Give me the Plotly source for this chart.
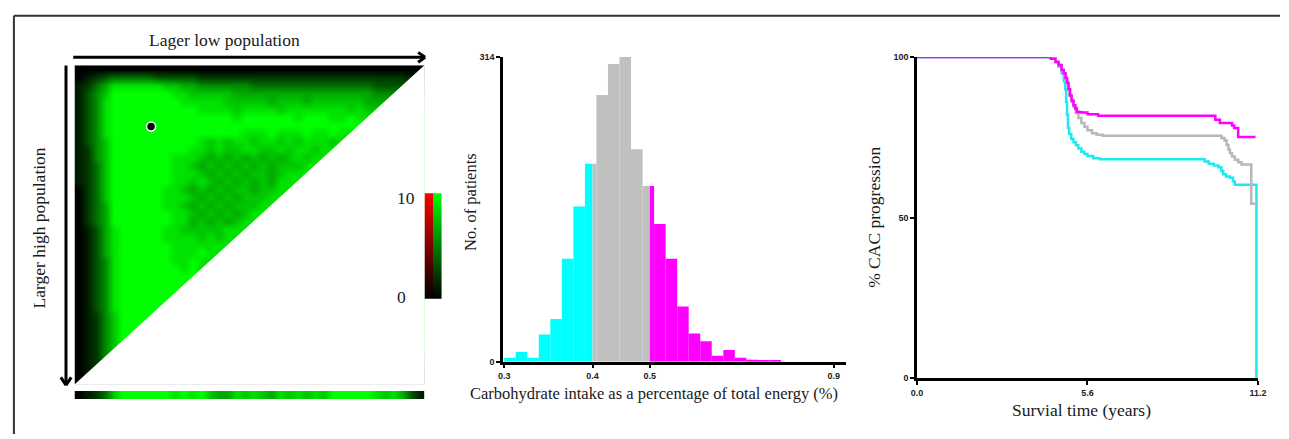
import plotly.graph_objects as go

W, H = 1289, 439

# ---------------- data ----------------
# X-tile triangular map: row i (top->bottom), digits 0..9 (0 = black, 9 = full green)
heat_rows = [
    "00000 00000 00000 00000 00000 00000 00000 00000",
    "01234 44443 33332 22222 22222 22222 22222 2221",
    "12468 88888 77665 55555 44444 44444 44443 333",
    "13579 99999 98877 77766 66666 66666 66665 55",
    "13589 99999 99888 88777 77677 76777 77766 6",
    "13589 99999 99998 88878 88878 88888 87877",
    "13589 99999 99999 99989 99999 89998 8988",
    "13589 99999 99999 99999 99999 99999 999",
    "13589 99999 99999 99998 88988 89889 88",
    "13579 99999 99998 78788 78878 78887 8",
    "12579 99999 99988 78778 87787 88788",
    "12579 99999 98887 67676 76767 8788",
    "12479 99999 98876 76767 67677 788",
    "12479 99999 98887 67676 77678 88",
    "12479 99999 98878 76767 67688 8",
    "02479 99999 88767 67677 67788",
    "02479 99999 88876 76767 7788",
    "02469 99999 88767 67677 788",
    "02469 99999 98876 76767 88",
    "02469 99999 98867 67678 8",
    "01368 99999 88777 77888",
    "01368 99999 88887 8788",
    "01368 99999 98888 888",
    "01368 99999 98889 88",
    "01358 99999 98898 8",
    "01358 99999 99898",
    "01358 99999 9999",
    "01358 99999 999",
    "01358 99999 99",
    "01358 99999 9",
    "01358 99999",
    "01257 9999",
    "01257 999",
    "01257 99",
    "01257 9",
    "01257",
    "0125",
    "012",
    "01",
    "0",
]
strip_values = "01247 99999 98989 76687 87687 87879 99998 78631"
optimal_cut = (8.25, 7.17)          # (column, row) of the selected cutpoint
colorbar_min, colorbar_max = 0, 10

# Histogram (equal-width bins, in bin units) and cutpoints
hist_counts = [4, 10, 4, 28, 44, 106, 160, 204, 275, 307, 314, 219,
               181, 142, 106, 57, 29, 21, 6, 12, 4, 2, 1.5, 1]
hist_cuts = [7.66, 12.63]
hist_tick_pos = [0, 7.66, 12.63, 28.57]
hist_tick_text = ["0.3", "0.4", "0.5", "0.9"]
hist_colors = ["#00FFFF", "#C0C0C0", "#FF00FF"]

# Kaplan-Meier curves
km_low_t = [0, 4.11, 4.40, 4.55, 4.65, 4.75, 4.82, 4.87, 4.90, 4.93, 4.96, 5.0,
            5.07, 5.14, 5.22, 5.30, 5.40, 5.50, 5.60, 5.79, 6.0, 9.36, 9.45, 9.58,
            9.75, 9.90, 10.0, 10.06, 10.15, 10.28, 10.38, 10.44, 11.15]
km_low_s = [100, 100, 99.5, 98.5, 97, 95, 92.5, 90, 86, 82, 78, 76,
            74.5, 73.5, 72.5, 71.5, 70.5, 69.8, 69.2, 68.5, 68.2, 68.2, 67.5, 66.8,
            66.2, 65.7, 64.5, 63.5, 62.8, 62.4, 61.2, 60.2, 0]
km_mid_t = [0, 4.11, 4.40, 4.55, 4.65, 4.75, 4.82, 4.88, 4.95, 5.0, 5.07, 5.14,
            5.22, 5.30, 5.40, 5.50, 5.60, 5.75, 5.90, 6.10, 9.80, 10.0, 10.10, 10.17,
            10.23, 10.28, 10.35, 10.44, 10.55, 10.66, 10.98, 11.25]
km_mid_s = [100, 100, 99.5, 98.5, 97.5, 96, 94.5, 92.5, 90, 88, 86, 84.5,
            82.5, 81, 79.5, 78.3, 77.2, 76.3, 75.8, 75.5, 75.5, 74.8, 74, 72.6,
            71.2, 70, 69, 68, 67.2, 66.5, 54.3, 54.3]
km_high_t = [0, 4.11, 4.40, 4.55, 4.65, 4.75, 4.82, 4.88, 4.93, 4.98, 5.03, 5.08,
             5.14, 5.20, 5.25, 5.33, 5.41, 5.60, 5.95, 9.74, 9.80, 9.95, 10.35,
             10.42, 10.55, 11.12]
km_high_s = [100, 100, 99.5, 98.5, 97.5, 96, 95, 93.5, 92, 90, 88, 86.5,
             85, 84, 83, 82.8, 82.7, 82.2, 81.7, 81.7, 80.5, 79.5, 78.7,
             77.9, 75.1, 75.1]
km_ticks = [0, 5.6, 11.2]
km_tick_text = ["0.0", "5.6", "11.2"]

# ---------------- helpers ----------------
def px(x):
    return x / W

def py(y):
    return (H - y) / H

SERIF = "Liberation Serif, Times New Roman, serif"
SANS = "Liberation Sans, Arial, sans-serif"

fig = go.Figure()

# ---- heatmap (triangle) ----
N = 40
z = []
for i, s in enumerate(heat_rows):
    d = [int(c) for c in s.replace(" ", "")]
    L = N - i
    d = d[:L]
    # cells beyond the diagonal are hidden by the white mask; repeat edge value
    z.append(d + [d[-1]] * (N - len(d)))

green_scale = [[0, "#000000"], [1, "#00FF00"]]
red_scale = [[0, "#000000"], [1, "#FF0000"]]

fig.add_trace(go.Heatmap(z=z, x=list(range(N)), y=list(range(N)), colorscale=green_scale,
                         zmin=0, zmax=9, showscale=False, zsmooth="best",
                         xaxis="x", yaxis="y"))
fig.add_trace(go.Scatter(x=[optimal_cut[0]], y=[optimal_cut[1]], mode="markers",
                         marker=dict(size=9, color="black", line=dict(color="white", width=1.5)),
                         showlegend=False, xaxis="x", yaxis="y"))

# ---- strip under heatmap ----
sv = [int(c) for c in strip_values.replace(" ", "")]
fig.add_trace(go.Heatmap(z=[sv, sv], x=list(range(N)), y=[0, 1], colorscale=green_scale,
                         zmin=0, zmax=9, showscale=False, zsmooth="best",
                         xaxis="x2", yaxis="y2"))

# ---- two-column colour bar ----
levels = [colorbar_min + (colorbar_max - colorbar_min) * k / 60 for k in range(61)]
fig.add_trace(go.Heatmap(z=[[v] for v in levels], x=[0], y=levels, colorscale=red_scale,
                         zmin=colorbar_min, zmax=colorbar_max, showscale=False,
                         xaxis="x3", yaxis="y3"))
fig.add_trace(go.Heatmap(z=[[v] for v in levels], x=[1], y=levels, colorscale=green_scale,
                         zmin=colorbar_min, zmax=colorbar_max, showscale=False,
                         xaxis="x3", yaxis="y3"))

# ---- histogram ----
bounds = [0] + hist_cuts + [len(hist_counts)]
for g in range(3):
    a, b = bounds[g], bounds[g + 1]
    xs, ws, ys = [], [], []
    for k, c in enumerate(hist_counts):
        lo, hi = max(k, a), min(k + 1, b)
        if hi > lo:
            xs.append((lo + hi) / 2)
            ws.append(hi - lo)
            ys.append(c)
    fig.add_trace(go.Bar(x=xs, y=ys, width=ws, marker=dict(color=hist_colors[g], line=dict(width=0)),
                         showlegend=False, xaxis="x4", yaxis="y4"))

# ---- KM curves ----
for t, s, col in [(km_low_t, km_low_s, "#1EE8F0"), (km_mid_t, km_mid_s, "#B8B8B8"),
                  (km_high_t, km_high_s, "#FF00FF")]:
    fig.add_trace(go.Scatter(x=t, y=s, mode="lines", line=dict(color=col, width=2.5, shape="hv"),
                             cliponaxis=False, showlegend=False, xaxis="x5", yaxis="y5"))

hidden = dict(visible=False, showgrid=False, zeroline=False, fixedrange=True)
tickfont = dict(family=SANS, size=9, color="#222222", weight="bold")
axis_style = dict(showline=True, linecolor="black", linewidth=2.5, ticks="outside",
                  ticklen=4, tickwidth=2, tickcolor="black", showgrid=False,
                  zeroline=False, tickfont=tickfont, mirror=False)

fig.update_layout(
    width=W, height=H, margin=dict(l=0, r=0, t=0, b=0), autosize=False,
    paper_bgcolor="white", plot_bgcolor="rgba(0,0,0,0)", showlegend=False,
    barmode="overlay",
    xaxis=dict(domain=[px(69.3), px(423.3)], range=[-0.5, N - 0.5], anchor="y", **hidden),
    yaxis=dict(domain=[py(388.3), py(61.7)], range=[N - 0.5, -0.5], anchor="x", **hidden),
    xaxis2=dict(domain=[px(69.3), px(423.3)], range=[-0.5, N - 0.5], anchor="y2", **hidden),
    yaxis2=dict(domain=[py(403.3), py(395)], range=[0, 1], anchor="x2", **hidden),
    xaxis3=dict(domain=[px(423.3), px(440.7)], range=[-0.5, 1.5], anchor="y3", **hidden),
    yaxis3=dict(domain=[py(300.7), py(192.7)], range=[colorbar_min, colorbar_max], anchor="x3", **hidden),
    xaxis4=dict(domain=[px(503), px(850)], range=[-0.09, 29.65], anchor="y4",
                tickvals=hist_tick_pos, ticktext=hist_tick_text, **axis_style),
    yaxis4=dict(domain=[py(365), py(53.3)], range=[0, 314], anchor="x4",
                tickvals=[0, 314], ticktext=["0", "314"], **axis_style),
    xaxis5=dict(domain=[px(921.7), px(1266.7)], range=[0, 11.2], anchor="y5",
                tickvals=km_ticks, ticktext=km_tick_text, **axis_style),
    yaxis5=dict(domain=[py(381.7), py(53.3)], range=[0, 100], anchor="x5",
                tickvals=[0, 50, 100], ticktext=["0", "50", "100"], **axis_style),
)

# white mask to make the hypotenuse a straight line
shapes = [dict(type="path", xref="x", yref="y",
               path=f"M {N-0.5},-0.5 L {N+2},-0.5 L {N+2},{N+2} L -0.5,{N+2} L -0.5,{N-0.5} Z",
               fillcolor="white", line=dict(width=0), layer="above")]

def seg(x0, y0, x1, y1, w=3, c="black"):
    return dict(type="line", xref="paper", yref="paper", x0=px(x0), y0=py(y0),
                x1=px(x1), y1=py(y1), line=dict(color=c, width=w))

# frame (top and left)
shapes += [seg(8, 11, W, 11, 2, "#333333"), seg(8, 11, 8, H, 2, "#333333")]
# horizontal arrow
shapes += [seg(68, 53.5, 424, 53.5), seg(424, 53.5, 417, 48.5), seg(424, 53.5, 417, 58.5)]
# vertical arrow
shapes += [seg(60.7, 62, 60.7, 389), seg(60.7, 389, 55.5, 381), seg(60.7, 389, 66, 381)]
fig.update_layout(shapes=shapes)

def ann(text, x, y, size=17, angle=0, xanchor="center"):
    return dict(text=text, x=px(x), y=py(y), xref="paper", yref="paper", showarrow=False,
                textangle=angle, xanchor=xanchor, yanchor="middle",
                font=dict(family=SERIF, size=size, color="#1a1a1a"))

fig.update_layout(annotations=[
    ann("Lager low population", 221, 36, 17.5),
    ann("Larger high population", 33, 228, 17.5, -90),
    ann("10", 394, 197, 17.5, xanchor="left"),
    ann("0", 394, 299, 17.5, xanchor="left"),
    ann("No. of patients", 470, 202, 16.5, -90),
    ann("Carbohydrate intake as a percentage of total energy (%)", 656, 398, 16.5),
    ann("% CAC progression", 878, 217, 17.5, -90),
    ann("Survial time (years)", 1088, 414, 17.5),
])

fig.write_html("out.html", config={"displayModeBar": False},
               post_script="document.body.style.margin='0';document.body.style.overflow='hidden';")
